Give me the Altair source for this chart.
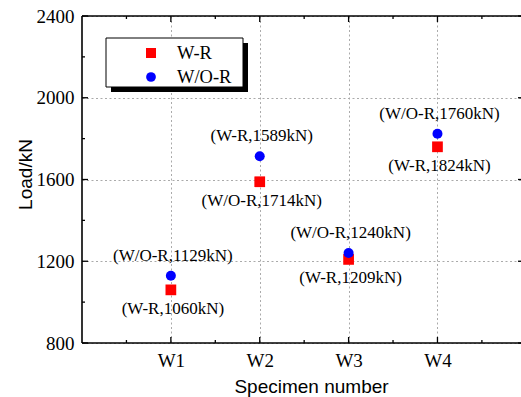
import altair as alt
import pandas as pd

specimens = ["W1", "W2", "W3", "W4"]
series_names = ["W-R", "W/O-R"]
load_wr = [1060, 1589, 1209, 1760]
load_wor = [1129, 1714, 1240, 1824]
upper_labels = ["(W/O-R,1129kN)", "(W-R,1589kN)", "(W/O-R,1240kN)", "(W/O-R,1760kN)"]
lower_labels = ["(W-R,1060kN)", "(W/O-R,1714kN)", "(W-R,1209kN)", "(W-R,1824kN)"]
y_major = [800, 1200, 1600, 2000, 2400]
y_minor = [1000, 1400, 1800, 2200]
x_major = [1, 2, 3, 4]
x_minor = [0.5, 1.5, 2.5, 3.5, 4.5]

W, H = 439, 327
SERIF = "Liberation Serif"
SANS = "Liberation Sans"

rows = []
for i, s in enumerate(specimens):
    rows.append({"idx": i + 1, "specimen": s, "series": series_names[0], "load": load_wr[i]})
    rows.append({"idx": i + 1, "specimen": s, "series": series_names[1], "load": load_wor[i]})
pts = pd.DataFrame(rows)

lab = pd.DataFrame({
    "idx": [i + 1 for i in range(len(specimens))],
    "y_up": [max(a, b) for a, b in zip(load_wr, load_wor)],
    "y_low": [min(a, b) for a, b in zip(load_wr, load_wor)],
    "up": upper_labels,
    "low": lower_labels,
})

xs = alt.Scale(domain=[0, 4.94], nice=False, zero=False)
ys = alt.Scale(domain=[800, 2400], nice=False, zero=False)

x_axis = alt.Axis(values=x_major, labelExpr="'W' + datum.value",
                  title="Specimen number",
                  titleX=229, titleY=43, titleBaseline="middle")
y_axis = alt.Axis(values=y_major, format="d",
                  title="Load/kN",
                  titleX=-57, titleY=158, titleBaseline="middle", titleAngle=-90)

base_pts = alt.Chart(pts)
pts_wr = base_pts.transform_filter(alt.datum.series == series_names[0]).mark_point(
    shape="square", filled=True, size=115, color="#ff0000", opacity=1
).encode(x=alt.X("idx:Q", scale=xs, axis=x_axis), y=alt.Y("load:Q", scale=ys, axis=y_axis))
pts_wor = base_pts.transform_filter(alt.datum.series == series_names[1]).mark_point(
    shape="circle", filled=True, size=100, color="#0000ff", opacity=1
).encode(x="idx:Q", y="load:Q")

lab_base = alt.Chart(lab)
txt_up = lab_base.mark_text(font=SERIF, fontSize=17, color="black", baseline="middle", dy=-20, dx=2).encode(
    x="idx:Q", y="y_up:Q", text="up:N")
txt_low = lab_base.mark_text(font=SERIF, fontSize=17, color="black", baseline="middle", dy=19, dx=2).encode(
    x="idx:Q", y="y_low:Q", text="low:N")

# inward ticks
def vdf(v):
    return pd.DataFrame({"v": v})

tk = dict(color="black", strokeWidth=1.3)
t_left_maj = alt.Chart(vdf(y_major)).mark_rule(**tk).encode(y="v:Q", x=alt.value(0), x2=alt.value(6))
t_left_min = alt.Chart(vdf(y_minor)).mark_rule(**tk).encode(y="v:Q", x=alt.value(0), x2=alt.value(3))
t_right_maj = alt.Chart(vdf(y_major)).mark_rule(**tk).encode(y="v:Q", x=alt.value(W), x2=alt.value(W - 3))
t_bot_maj = alt.Chart(vdf(x_major)).mark_rule(**tk).encode(x="v:Q", y=alt.value(H), y2=alt.value(H - 6))
t_bot_min = alt.Chart(vdf(x_minor)).mark_rule(**tk).encode(x="v:Q", y=alt.value(H), y2=alt.value(H - 3))
t_top_maj = alt.Chart(vdf(x_major)).mark_rule(**tk).encode(x="v:Q", y=alt.value(0), y2=alt.value(6))
t_top_min = alt.Chart(vdf(x_minor)).mark_rule(**tk).encode(x="v:Q", y=alt.value(0), y2=alt.value(3))

# frame (right side lies beyond the visible window in the reference)
one = alt.Data(values=[{"k": 1}])
fr = dict(color="black", strokeWidth=1.6)
frame_top = alt.Chart(one).mark_rule(**fr).encode(x=alt.value(0), x2=alt.value(W), y=alt.value(0))
frame_bot = alt.Chart(one).mark_rule(**fr).encode(x=alt.value(0), x2=alt.value(W), y=alt.value(H))
frame_left = alt.Chart(one).mark_rule(**fr).encode(x=alt.value(0), y=alt.value(0), y2=alt.value(H))

# legend box
leg_shadow = alt.Chart(one).mark_rect(color="black").encode(
    x=alt.value(29), x2=alt.value(166), y=alt.value(27), y2=alt.value(76))
leg_box = alt.Chart(one).mark_rect(fill="white", stroke="black", strokeWidth=1).encode(
    x=alt.value(24), x2=alt.value(161), y=alt.value(22), y2=alt.value(71))
leg_sym1 = alt.Chart(one).mark_point(shape="square", filled=True, size=100, color="#ff0000", opacity=1).encode(
    x=alt.value(69), y=alt.value(37))
leg_sym2 = alt.Chart(one).mark_point(shape="circle", filled=True, size=95, color="#0000ff", opacity=1).encode(
    x=alt.value(69), y=alt.value(61))
leg_t1 = alt.Chart(one).mark_text(font=SERIF, fontSize=18.5, color="black", align="left", baseline="middle").encode(
    x=alt.value(95), y=alt.value(37), text=alt.value(series_names[0]))
leg_t2 = alt.Chart(one).mark_text(font=SERIF, fontSize=18.5, color="black", align="left", baseline="middle").encode(
    x=alt.value(95), y=alt.value(61), text=alt.value(series_names[1]))

chart = alt.layer(
    pts_wr, pts_wor, txt_up, txt_low,
    t_left_maj, t_left_min, t_right_maj,
    t_bot_maj, t_bot_min, t_top_maj, t_top_min,
    frame_top, frame_bot, frame_left,
    leg_shadow, leg_box, leg_sym1, leg_sym2, leg_t1, leg_t2,
).properties(
    width=W, height=H,
    padding={"left": 82, "top": 16, "right": 0, "bottom": 54},
    autosize=alt.AutoSizeParams(type="none"),
    background="white",
).configure_view(
    strokeWidth=0
).configure_axis(
    domain=False, ticks=False,
    grid=True, gridDash=[2, 2.5], gridColor="#aaaaaa", gridWidth=1,
    labelFont=SERIF, labelFontSize=19, labelColor="black", labelPadding=8,
    titleFont=SANS, titleFontSize=19, titleFontWeight="normal", titleColor="black",
)

chart.save("out.html", embed_options={"renderer": "svg", "actions": False})
